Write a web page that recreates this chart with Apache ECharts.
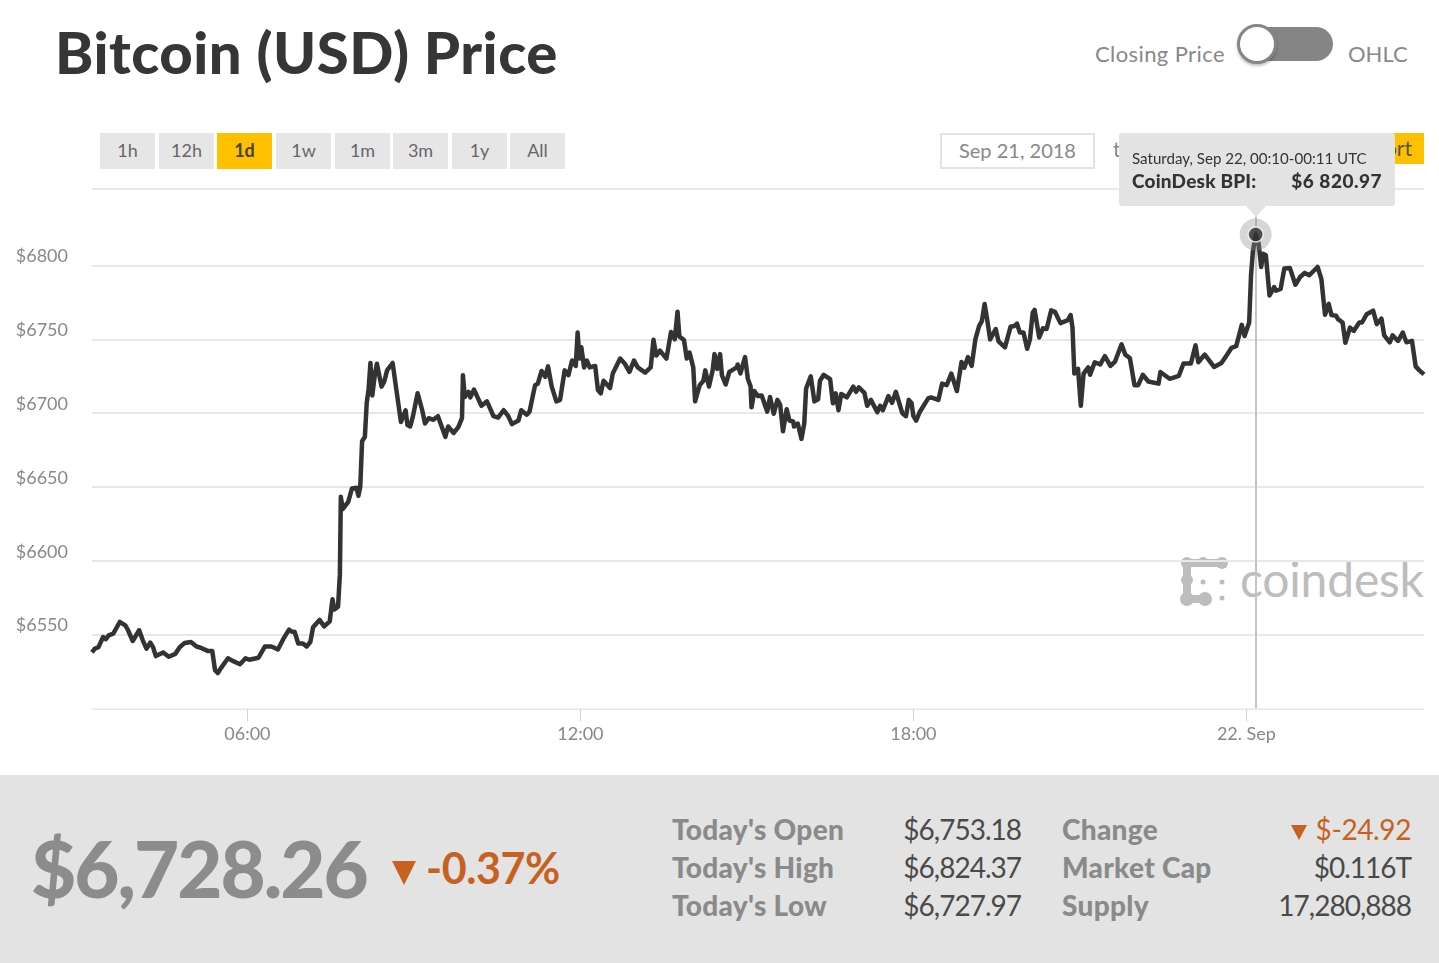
<!DOCTYPE html>
<html>
<head>
<meta charset="utf-8">
<title>Bitcoin (USD) Price</title>
<script src="https://cdn.jsdelivr.net/npm/echarts@6/dist/echarts.min.js"></script>
<style>
html,body{margin:0;padding:0;background:#fff;overflow:hidden;font-family:Lato,"Noto Sans",sans-serif}
#page{position:relative;width:1439px;height:963px;overflow:hidden}
#page div{position:absolute;white-space:nowrap}
#chart{left:0;top:0;width:1439px;height:963px;z-index:5}
.title{left:55px;top:16px;font-size:58px;line-height:72px;font-weight:900;color:#363636;letter-spacing:.5px}
.sw{font-size:22px;line-height:30px;color:#888;top:39px}
.track{left:1242px;top:27px;width:91px;height:34px;border-radius:17px;background:#858585}
.knob{left:1237px;top:24px;width:34px;height:34px;border-radius:50%;background:#fff;border:3px solid #858585;box-shadow:0 2px 3px rgba(0,0,0,.25)}
.btn{top:133px;width:55px;height:36px;line-height:35px;text-align:center;background:#e6e6e6;color:#666;font-size:18px}
.btn.on{background:#ffc000;color:#444;font-weight:700}
.datebox{left:940px;top:133px;width:151px;height:32px;border:2px solid #e3e3e3;line-height:30px;text-align:center;color:#888;font-size:20px}
.to{left:1113px;top:133px;line-height:32px;color:#888;font-size:21px}
.export{left:1308px;top:133px;width:116px;height:31px;line-height:30px;background:#ffc000;color:#555;font-size:21px;text-align:right}
.export span{padding-right:12px}
.toprule{left:92px;top:188px;width:1332px;height:2px;background:#e8e8e8}
.foot{left:0;top:775px;width:1439px;height:188px;background:#e3e3e3}
.price{left:31px;top:826px;font-size:78px;line-height:84px;font-weight:900;color:#8c8c8c;letter-spacing:-2px}
.tri{width:0;height:0;border-style:solid;border-color:#c7611f transparent transparent transparent}
.pct{left:426px;top:842px;font-size:43px;line-height:52px;font-weight:700;color:#c7611f;letter-spacing:-.4px}
.lab{font-size:28px;line-height:34px;font-weight:900;color:#8a8a8a;letter-spacing:.3px}
.val{font-size:28px;line-height:34px;color:#4a4a4a;text-align:right;width:200px;letter-spacing:-1px}
.mark{font-size:48px;line-height:60px;color:#bdbdbd;left:1240px;top:549px;letter-spacing:-.2px}
.tt{font-family:Lato,"Noto Sans",sans-serif;position:relative}
</style>
</head>
<body>
<div id="page">
    <div class="title">Bitcoin (USD) Price</div>
    <div class="sw" style="left:1095px;letter-spacing:.4px">Closing Price</div>
    <div class="track"></div>
    <div class="knob"></div>
    <div class="sw" style="left:1348px">OHLC</div>
    <div id="buttons"></div>
    <div class="datebox">Sep 21, 2018</div>
    <div class="to">to</div>
    <div class="export"><span>Export</span></div>
    <div class="toprule"></div>
    <div class="mark">coindesk</div>
    <svg style="position:absolute;left:1175px;top:552px" width="60" height="60" fill="#bdbdbd" stroke="none">
        <path d="M12 11H47M12 11V47H30" stroke="#bdbdbd" stroke-width="8" fill="none" stroke-linecap="round"/>
        <circle cx="12" cy="11" r="6"/><circle cx="28" cy="10" r="5"/><circle cx="47" cy="11" r="6"/>
        <circle cx="12" cy="28" r="6"/><circle cx="12" cy="47" r="7"/><circle cx="30" cy="47" r="7"/>
        <circle cx="28" cy="30" r="2.5"/><circle cx="47" cy="30" r="2.5"/><circle cx="47" cy="46" r="2.5"/>
    </svg>
    <div class="foot"></div>
    <div class="price">$6,728.26</div>
    <div class="tri" style="left:392px;top:861px;border-width:24px 12px 0 12px"></div>
    <div class="pct">-0.37%</div>
    <div id="stats"></div>
    <div id="chart"></div>
</div>
<script>
var rangeButtons = ['1h','12h','1d','1w','1m','3m','1y','All'];
var buttonLeft = [100,159,217,276,335,393,452,510];

var statLabels = ["Today's Open","Today's High","Today's Low","Change","Market Cap","Supply"];
var statValues = ['$6,753.18','$6,824.37','$6,727.97','$-24.92','$0.116T','17,280,888'];

//minutes after 03:12 on Sep 21
var minutes = [
0,3,7,12,15,18,23,30,36,39,44,46,51,55,59,63,66,69,77,83,90,95,100,107,113,118,125,130,133,136,139,147,151,160,166,170,180,187,194,201,
207,213,216,219,223,228,232,236,239,246,251,257,260,262,266,268,269,271,277,281,286,288,290,292,295,297,299,301,303,306,308,313,316,319,325,329,334,339,341,344,
347,352,357,360,364,369,374,382,385,391,396,400,401,403,407,409,413,421,427,434,439,445,450,454,461,464,470,473,479,482,486,490,493,497,502,506,511,515,519,523,
525,527,529,532,535,538,544,547,550,553,560,563,571,576,581,586,590,598,604,607,610,614,621,626,630,633,635,640,643,646,650,652,654,657,661,663,667,671,673,676,
679,681,685,689,697,698,701,706,709,712,713,716,720,724,730,733,737,741,744,747,751,754,758,759,763,767,770,772,777,781,785,787,791,798,801,804,807,810,816,823,
826,829,835,838,842,849,852,855,861,865,869,876,880,883,886,888,891,895,904,907,915,919,924,929,935,940,943,947,951,955,959,962,965,968,971,977,980,987,989,993,
997,1000,1003,1007,1011,1014,1017,1019,1024,1028,1032,1037,1041,1047,1055,1058,1060,1062,1066,1069,1072,1077,1079,1084,1090,1095,1101,1106,1113,1117,1122,1127,1131,1136,1142,1153,1155,1165,1175,1180,
1188,1193,1196,1203,1213,1221,1226,1232,1237,1243,1246,1251,1253,1255,1258,1261,1264,1266,1269,1273,1278,1280,1285,1289,1295,1301,1306,1311,1316,1325,1329,1333,1337,1340,1345,1347,1352,1355,1360,1364,
1370,1373,1378,1385,1389,1394,1397,1403,1406,1412,1417,1421,1427,1431,1435,1440
];
var closingPrice = [
6538,6540.5,6541.6,6548.4,6547,6549.5,6550.7,6558.6,6556.3,6553,6545.7,6547,6553,6546,6540.5,6544.6,6541.6,6535.5,6538,6535,6537,6541.6,6544.3,6545,6542,6541,6539,6539,6526,6524,6527,6534,6532.6,6530,6534,6533,6534.4,6542,6542,6540,
6547.3,6553.4,6552,6552,6544,6544,6542,6545,6555,6560,6555.6,6559,6574,6567,6569,6591,6643.4,6635,6640,6649,6649.5,6644,6650,6681,6684,6707,6716,6734,6712,6727,6733.5,6718,6721.5,6729,6734,6716,6694,6702,6692,6691,
6698,6713.5,6702,6693,6696.6,6695.5,6698,6684,6691,6686.6,6690.6,6696.6,6725.7,6711,6714.5,6710.7,6716,6705,6708,6698,6697,6702,6698,6692.6,6695,6702,6699,6701,6719,6720,6728.6,6724.6,6731.7,6718,6708,6709,6729,6725.7,6735.7,6732,
6754.7,6737,6744.6,6731,6735.7,6731,6732,6715.6,6713.4,6722,6717,6726.8,6737,6733.5,6728,6735.7,6731,6727.5,6731,6749.8,6739,6742.4,6737,6755,6750,6768.7,6752,6749.5,6737,6741,6731,6708,6707,6719,6722,6729,6718,6729,6740,6730,
6740,6725.7,6719.4,6728,6731,6733,6727,6738,6723.4,6718,6704,6715,6711.6,6712,6701,6711,6699.6,6709,6705.6,6687.7,6702.7,6695,6694.4,6691,6693,6682.6,6693,6716.7,6725,6708,6709.4,6722,6726,6723,6706.7,6713.4,6702,6713,6710.7,6718,
6714.5,6717.4,6713.8,6705,6709,6700.7,6705,6702,6711.6,6707,6714.5,6700,6698,6709,6706.7,6698,6695,6701,6710,6710.7,6709,6720,6719,6726.8,6715,6734.6,6730.8,6738,6732,6750,6759,6762.4,6774,6762.4,6750,6757,6748.7,6744.6,6745.8,6758.5,
6759,6760.7,6754.7,6754.7,6743.6,6750,6768,6770,6751.3,6757.5,6757,6769.6,6768.7,6761,6763,6766.5,6758,6726.8,6730,6705,6726.8,6731,6726,6734.5,6733,6738.6,6732,6735,6746.6,6739.7,6737.4,6719,6719,6726,6721.5,6720,6727.9,6723.3,6725.3,6733.6,
6733.6,6746,6734.5,6739.7,6731.3,6734,6738.6,6744.3,6745.4,6759.8,6752.3,6761.4,6793.4,6809.4,6820.97,6816,6799,6808,6807,6779.7,6785.4,6783,6784.2,6798,6798.4,6787,6792.2,6795,6793.4,6799,6791,6766.7,6774,6766.4,6766,6763.7,6761.4,6747.7,6758,6755.7,
6761.4,6761.4,6767,6769.4,6760.3,6764,6752.7,6748,6752.7,6748.9,6754.6,6748,6749,6731.7,6729,6726.26
];

var timeTicks = [168,528,888,1248];
var timeLabels = ['06:00','12:00','18:00','22. Sep'];
var priceTicks = [6550,6600,6650,6700,6750,6800];

var hoverIndex = closingPrice.indexOf(6820.97);
var hoverTime = 'Saturday, Sep 22, 00:10-00:11 UTC';

//按钮和底部统计
function buildPage(){
    var html = '';
    rangeButtons.forEach(function(name,i){
        html += '<div class="btn'+(name==='1d'?' on':'')+'" style="left:'+buttonLeft[i]+'px">'+name+'</div>';
    });
    document.getElementById('buttons').innerHTML = html;

    var rows = [812,850,888];
    var out = '';
    statLabels.forEach(function(name,i){
        var row = rows[i%3];
        var labX = i<3 ? 672 : 1062;
        var valX = i<3 ? 821 : 1211;
        out += '<div class="lab" style="left:'+labX+'px;top:'+row+'px">'+name+'</div>';
        var color = name==='Change' ? ';color:#c7611f;letter-spacing:-.4px' : '';
        out += '<div class="val" style="left:'+valX+'px;top:'+row+'px'+color+'">'+statValues[i]+'</div>';
    });
    out += '<div class="tri" style="left:1291px;top:825px;border-width:15px 8px 0 8px"></div>';
    document.getElementById('stats').innerHTML = out;
}

function priceChart(){
    var chart = echarts.init(document.getElementById('chart'),null,{renderer:'canvas'});
    var lineData = minutes.map(function(m,i){ return [m,closingPrice[i]]; });
    var hoverPoint = [lineData[hoverIndex]];
    var option = {
        animation:false,
        backgroundColor:'transparent',
        textStyle:{fontFamily:'Lato'},
        grid:{left:92,top:191.7,width:1332,height:516.8},
        tooltip:{
            show:true,
            trigger:'axis',
            alwaysShowContent:true,
            transitionDuration:0,
            axisPointer:{type:'line',snap:true,z:2,lineStyle:{color:'#c4c4c4',width:2,type:'solid'},label:{show:false}},
            backgroundColor:'transparent',
            borderWidth:0,
            padding:0,
            extraCssText:'box-shadow:none;',
            position:function(){ return [1119,133]; },
            formatter:function(){
                return '<div class="tt" style="width:276px;height:73px;background:#e3e3e3;border-radius:3px;color:#333">'
                    +'<div style="left:13px;top:15px;font-size:15.1px;line-height:20px">'+hoverTime+'</div>'
                    +'<div style="left:13px;top:37px;font-size:19px;line-height:22px;font-weight:900;letter-spacing:.2px">CoinDesk BPI:</div>'
                    +'<div style="right:13px;top:37px;font-size:19px;line-height:22px;font-weight:900;letter-spacing:.5px">$6 820.97</div>'
                    +'<div style="left:127px;top:73px;width:0;height:0;border-style:solid;border-width:11px 10px 0 10px;border-color:#e3e3e3 transparent transparent transparent"></div>'
                    +'</div>';
            }
        },
        xAxis:{
            type:'value',
            min:0,
            max:1440,
            splitLine:{show:false},
            axisLine:{show:true,onZero:false,lineStyle:{color:'#f0f0f0',width:1}},
            axisTick:{show:true,customValues:timeTicks,length:13,lineStyle:{color:'#ccd6eb',width:1}},
            axisLabel:{
                customValues:timeTicks,
                margin:17,
                color:'#888',
                fontSize:18,
                hideOverlap:false,
                formatter:function(v){ return timeLabels[timeTicks.indexOf(v)]; }
            }
        },
        yAxis:{
            type:'value',
            min:6500,
            max:6850,
            interval:50,
            splitLine:{show:true,showMaxLine:false,lineStyle:{color:'#e8e8e8',width:2}},
            axisLine:{show:false},
            axisTick:{show:false},
            axisLabel:{
                margin:24,
                color:'#888',
                fontSize:18,
                verticalAlign:'bottom',
                formatter:function(v){ return priceTicks.indexOf(v)<0 ? '' : '$'+v; }
            }
        },
        series:[
            {
                name:'Closing Price',
                type:'line',
                data:lineData,
                showSymbol:false,
                symbol:'none',
                smooth:false,
                clip:false,
                lineStyle:{color:'#333',width:4.5,join:'round'},
                emphasis:{disabled:true},
                z:3
            },
            {
                name:'halo',
                type:'scatter',
                data:hoverPoint,
                symbolSize:32,
                itemStyle:{color:'rgba(140,140,140,0.45)'},
                emphasis:{disabled:true},
                z:4
            },
            {
                name:'hover',
                type:'scatter',
                data:hoverPoint,
                symbolSize:15,
                itemStyle:{color:'#2b2b2b',borderColor:'#fff',borderWidth:1.5},
                emphasis:{disabled:true},
                z:5
            }
        ]
    };
    chart.setOption(option);
    chart.dispatchAction({type:'showTip',seriesIndex:0,dataIndex:hoverIndex});
}

buildPage();
priceChart();
</script>
</body>
</html>
